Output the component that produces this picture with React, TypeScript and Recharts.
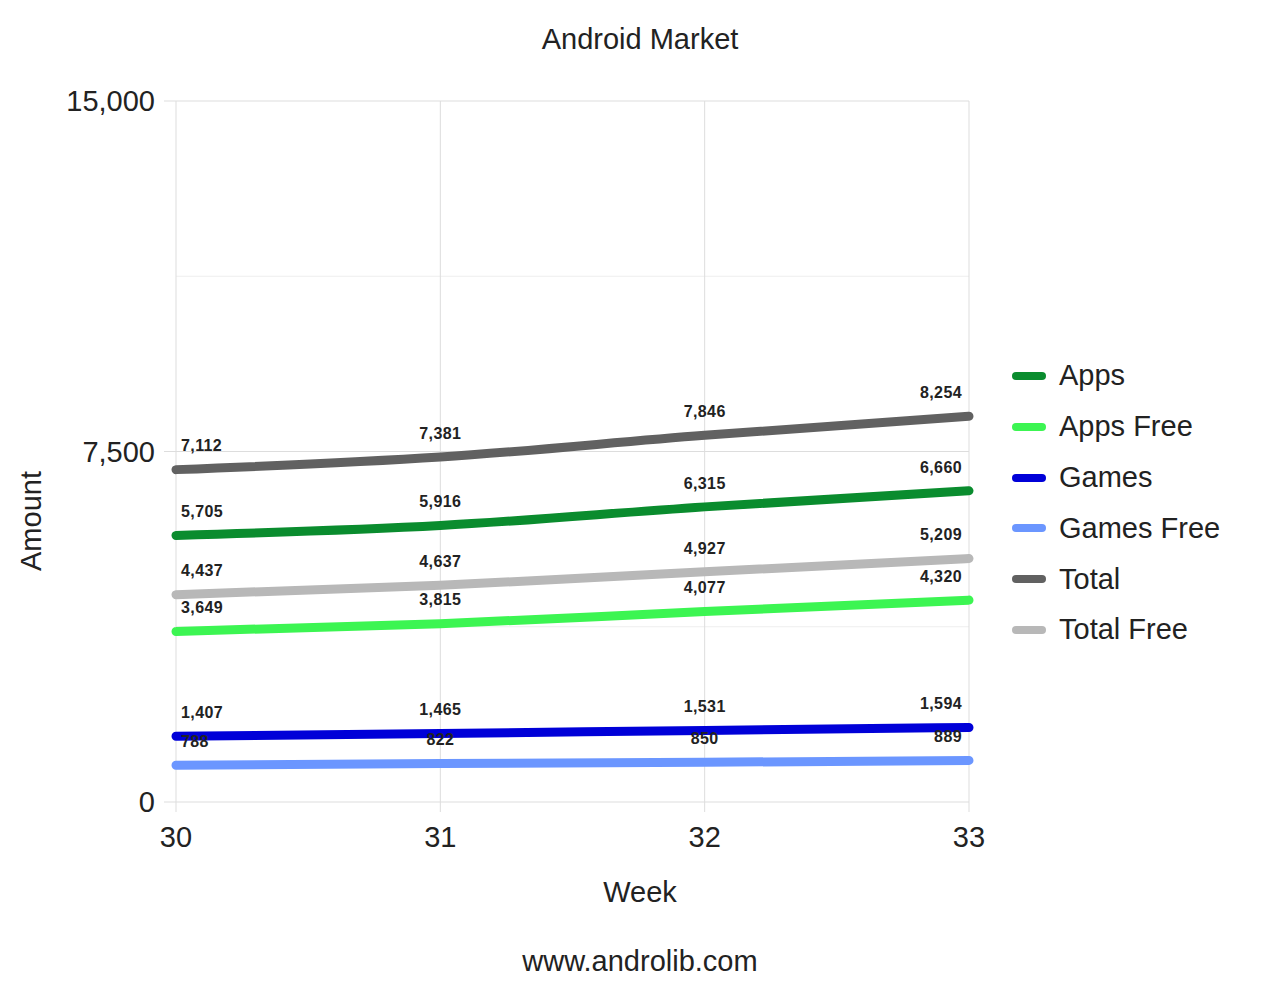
import React from 'react';
import { LineChart, Line, XAxis, YAxis, CartesianGrid, Legend, LabelList, Label } from 'recharts';

const weeks = [30, 31, 32, 33];
const apps = [5705, 5916, 6315, 6660];
const appsFree = [3649, 3815, 4077, 4320];
const games = [1407, 1465, 1531, 1594];
const gamesFree = [788, 822, 850, 889];
const total = [7112, 7381, 7846, 8254];
const totalFree = [4437, 4637, 4927, 5209];

const yTicks = [0, 7500, 15000];

const SERIES = [
  { key: 'apps', name: 'Apps', color: '#0a8c2e' },
  { key: 'appsFree', name: 'Apps Free', color: '#3cf552' },
  { key: 'games', name: 'Games', color: '#0000d8' },
  { key: 'gamesFree', name: 'Games Free', color: '#6b96ff' },
  { key: 'total', name: 'Total', color: '#616161' },
  { key: 'totalFree', name: 'Total Free', color: '#b8b8b8' },
];

const data = weeks.map((week, i) => ({
  week,
  apps: apps[i],
  appsFree: appsFree[i],
  games: games[i],
  gamesFree: gamesFree[i],
  total: total[i],
  totalFree: totalFree[i],
}));

const FONT = '"Liberation Sans", Arial, sans-serif';

/**
 * Value label above each point: first is left-aligned, last right-aligned
 */
function PointLabel(props: any) {
  const { x, y, value, index } = props;
  const last = weeks.length - 1;
  let anchor = 'middle';
  let dx = 0;
  if (index === 0) {
    anchor = 'start';
    dx = 5;
  } else if (index === last) {
    anchor = 'end';
    dx = -7;
  }
  return (
    <text
      x={x + dx}
      y={y - 24}
      dy="0.36em"
      textAnchor={anchor}
      fontFamily={FONT}
      fontSize={16}
      fontWeight="bold"
      letterSpacing={0.4}
      fill="#222"
    >
      {Number(value).toLocaleString('en-US')}
    </text>
  );
}

function LegendList({ payload }: any) {
  return (
    <div style={{ fontFamily: FONT, fontSize: 29, color: '#222' }}>
      {(payload || []).map((entry: any) => (
        <div key={entry.value} style={{ height: 50.8, display: 'flex', alignItems: 'center' }}>
          <span
            style={{
              display: 'inline-block',
              width: 34,
              height: 8,
              borderRadius: 4,
              background: entry.color,
              marginRight: 13,
            }}
          />
          <span>{entry.value}</span>
        </div>
      ))}
    </div>
  );
}

const textStyle: React.CSSProperties = {
  position: 'absolute',
  left: 0,
  width: 1280,
  textAlign: 'center',
  fontFamily: FONT,
  fontSize: 29,
  color: '#222',
  lineHeight: '34px',
};

export default function App() {
  return (
    <div style={{ position: 'absolute', left: 0, top: 0, width: 1280, height: 988, background: '#fff' }}>
      <LineChart
        width={1280}
        height={988}
        data={data}
        margin={{ top: 101, right: 311, bottom: 126, left: 0 }}
      >
        <CartesianGrid horizontalValues={[3750, 11250]} vertical={false} stroke="#eeeeee" />
        <CartesianGrid horizontalValues={yTicks} verticalValues={weeks} stroke="#dddddd" />
        <XAxis
          dataKey="week"
          type="number"
          domain={[30, 33]}
          ticks={weeks}
          height={60}
          axisLine={false}
          tickSize={10}
          tickMargin={14}
          tickLine={{ stroke: '#dddddd' }}
          tick={{ fontFamily: FONT, fontSize: 29, fill: '#222' }}
        />
        <YAxis
          domain={[0, 15000]}
          ticks={yTicks}
          width={176}
          axisLine={false}
          tickSize={12}
          tickMargin={9}
          tickLine={{ stroke: '#dddddd' }}
          tickFormatter={(v) => Number(v).toLocaleString('en-US')}
          tick={{ fontFamily: FONT, fontSize: 29, fill: '#222' }}
        >
          <Label
            content={() => (
              <text
                x={31}
                y={521}
                transform="rotate(-90 31 521)"
                textAnchor="middle"
                dominantBaseline="central"
                fontFamily={FONT}
                fontSize={29}
                fill="#222"
              >
                Amount
              </text>
            )}
          />
        </YAxis>
        <Legend
          layout="vertical"
          align="center"
          verticalAlign="middle"
          content={<LegendList />}
          wrapperStyle={{ left: 1012, top: 350.6, width: 260 }}
        />
        {SERIES.map((s) => (
          <Line
            key={s.key}
            type="monotone"
            dataKey={s.key}
            name={s.name}
            stroke={s.color}
            strokeWidth={9}
            strokeLinecap="round"
            dot={false}
            activeDot={false}
            isAnimationActive={false}
          >
            <LabelList dataKey={s.key} content={<PointLabel />} />
          </Line>
        ))}
      </LineChart>
      <div style={{ ...textStyle, top: 22 }}>Android Market</div>
      <div style={{ ...textStyle, top: 875 }}>Week</div>
      <div style={{ ...textStyle, top: 944 }}>www.androlib.com</div>
    </div>
  );
}
